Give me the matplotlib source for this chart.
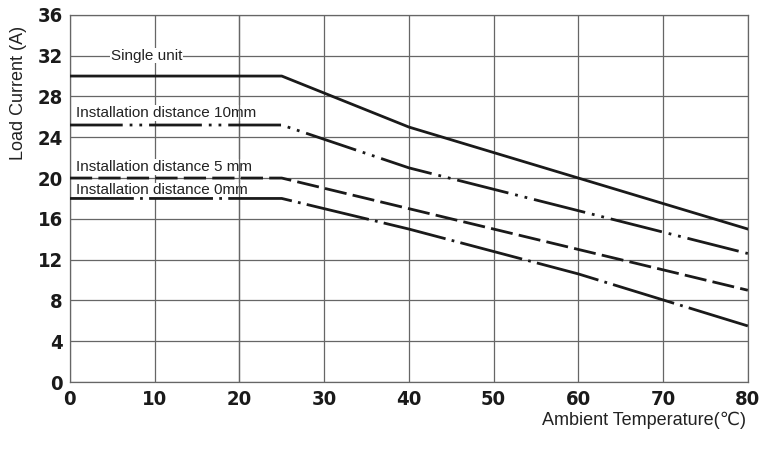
import matplotlib.pyplot as plt

plt.rcParams['lines.scale_dashes'] = False

# derating curves
temp_single = [0, 25, 40, 80]
cur_single = [30, 30, 25, 15]

temp_10mm = [0, 25, 40, 80]
cur_10mm = [25.2, 25.2, 21, 12.6]

temp_5mm = [0, 25, 80]
cur_5mm = [20, 20, 9]

temp_0mm = [0, 25, 40, 60, 80]
cur_0mm = [18, 18, 15, 10.6, 5.5]

x_ticks = [0, 10, 20, 30, 40, 50, 60, 70, 80]
y_ticks = [0, 4, 8, 12, 16, 20, 24, 28, 32, 36]

fig = plt.figure(figsize=(7.6, 4.5), dpi=100)
ax = fig.add_axes([0.092, 0.151, 0.892, 0.816])

line_col = '#1a1a1a'
grid_col = '#666666'
lw = 2.0

ax.plot(temp_single, cur_single, color=line_col, lw=lw, zorder=4)
ax.plot(temp_10mm, cur_10mm, color=line_col, lw=lw, zorder=4,
        linestyle=(0, (38, 5, 2, 5, 2, 5)))
ax.plot(temp_5mm, cur_5mm, color=line_col, lw=lw, zorder=4,
        linestyle=(0, (16, 4.5)))
ax.plot(temp_0mm, cur_0mm, color=line_col, lw=lw, zorder=4,
        linestyle=(0, (46, 4.5, 2, 4.5)))

ax.set_xlim(0, 80)
ax.set_ylim(0, 36)
ax.set_xticks(x_ticks)
ax.set_yticks(y_ticks)
ax.grid(True, color=grid_col, lw=0.9, zorder=1)
ax.set_axisbelow(True)
ax.tick_params(axis='x', length=0, pad=6)
ax.tick_params(axis='y', length=0, pad=5)
for s in ax.spines.values():
    s.set_color(grid_col)
    s.set_linewidth(0.9)

tick_font = dict(family='DejaVu Sans', stretch='condensed', weight='bold', size=14.5, color='#1a1a1a')
ax.set_xticklabels([str(v) for v in x_ticks], **tick_font)
ax.set_yticklabels([str(v) for v in y_ticks], **tick_font)

lab_font = dict(family=['Liberation Sans', 'DejaVu Sans'], size=11, color='#222222')
box = dict(facecolor='white', edgecolor='none', pad=0.5)
ax.text(4.8, 32.0, 'Single unit', va='center', ha='left', bbox=box, zorder=3, **lab_font)
ax.text(0.7, 26.4, 'Installation distance 10mm', va='center', ha='left', bbox=box, zorder=3, **lab_font)
ax.text(0.7, 21.1, 'Installation distance 5 mm', va='center', ha='left', bbox=box, zorder=3, **lab_font)
ax.text(0.7, 18.8, 'Installation distance 0mm', va='center', ha='left', bbox=box, zorder=3, **lab_font)

# the 20 degree gridline runs over the labels in the reference
ax.axvline(20, color=grid_col, lw=0.9, zorder=3.5)

axis_font = dict(family=['Liberation Sans', 'DejaVu Sans'], size=13, color='#222222')
fig.text(0.024, 0.793, 'Load Current (A)', rotation=90, ha='center', va='center', **axis_font)
fig.text(0.981, 0.067, 'Ambient Temperature(\u2103)', ha='right', va='center', **axis_font)

fig.savefig('out.png', dpi=100)
